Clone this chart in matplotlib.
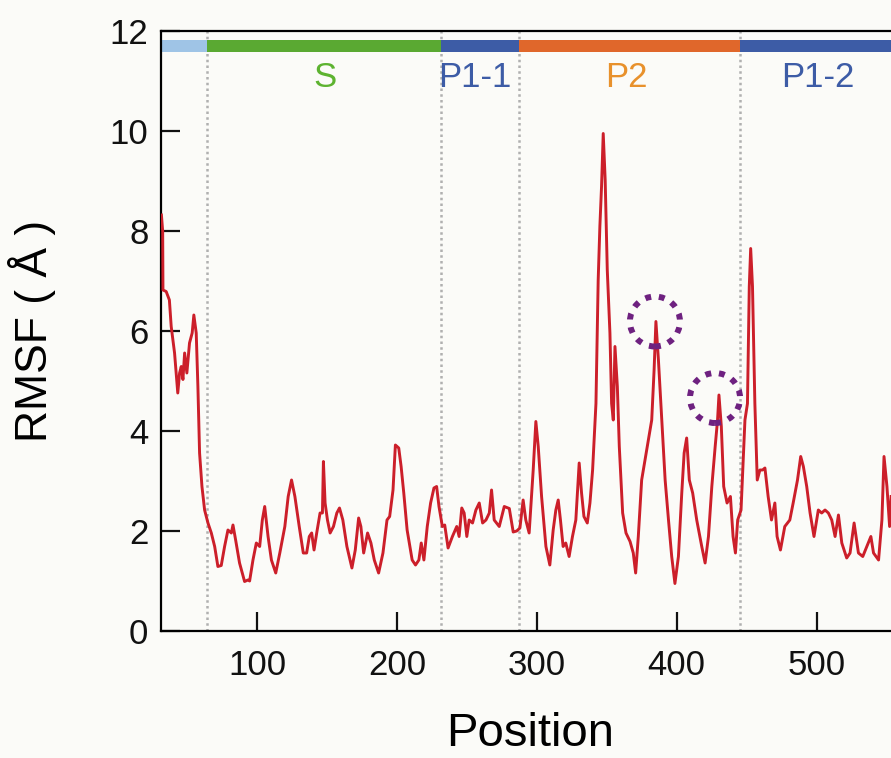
import matplotlib
matplotlib.use("Agg")
import matplotlib.pyplot as plt
from matplotlib.patches import Ellipse

plt.rcParams['font.family'] = ['Liberation Sans', 'DejaVu Sans']

# RMSF trace (position, RMSF in Angstrom)
position = [31.3, 32.2, 32.4, 34.7, 37.0, 38.3, 40.7, 43.0, 44.3, 45.5, 46.7, 47.9, 49.5,
            51.4, 53.3, 54.5, 56.2, 57.4, 58.6, 60.3, 62.2, 64.6, 67.0, 69.4, 71.7, 74.1,
            76.5, 78.9, 81.3, 82.5, 84.4, 87.2, 90.8, 93.2, 94.4, 96.8, 99.2, 101.6, 103.5,
            105.2, 107.6, 110.0, 113.1, 116.0, 119.6, 122.0, 124.4, 126.8, 129.9, 132.8,
            135.2, 137.1, 138.8, 140.5, 142.4, 144.8, 146.5, 147.2, 148.4, 150.1, 152.0,
            154.4, 156.8, 158.7, 161.1, 164.0, 167.6, 170.0, 172.4, 174.0, 176.0, 178.8,
            181.2, 183.6, 186.7, 189.8, 192.7, 194.6, 197.0, 198.7, 201.1, 202.8, 204.7,
            207.1, 210.7, 213.1, 215.5, 217.2, 219.1, 221.5, 223.9, 226.3, 228.2, 229.9,
            232.3, 234.0, 236.4, 239.5, 242.6, 244.3, 246.2, 247.9, 249.8, 251.5, 253.9,
            256.3, 258.7, 261.1, 263.5, 265.9, 267.5, 269.4, 273.0, 276.6, 280.2, 283.0,
            285.5, 287.8, 290.1, 292.0, 294.4, 297.3, 299.2, 300.9, 303.3, 306.4, 309.2,
            311.6, 313.5, 315.2, 316.8, 318.7, 320.6, 323.0, 325.4, 327.8, 330.2, 331.9,
            333.6, 336.0, 337.9, 339.8, 342.2, 343.8, 345.0, 346.2, 347.4, 348.8, 350.3,
            352.2, 353.4, 354.6, 355.8, 357.5, 358.9, 361.3, 363.7, 366.6, 368.9, 370.6,
            372.5, 374.9, 378.5, 382.1, 383.8, 385.1, 386.9, 389.3, 391.7, 394.1, 396.4,
            398.7, 401.2, 403.6, 405.3, 407.1, 409.0, 411.4, 414.3, 417.9, 420.3, 422.7,
            425.1, 427.5, 429.2, 430.2, 431.9, 433.6, 436.0, 438.4, 440.3, 442.0, 443.6,
            446.0, 448.8, 450.6, 451.9, 452.9, 454.2, 455.9, 457.6, 459.5, 461.4, 463.1,
            465.4, 467.8, 470.2, 471.8, 474.2, 477.3, 480.9, 483.3, 486.4, 488.7, 490.6,
            493.0, 495.4, 498.2, 501.3, 503.7, 506.1, 508.5, 510.9, 513.3, 515.7, 518.1,
            521.6, 524.0, 526.9, 530.0, 533.1, 536.0, 538.9, 540.8, 544.4, 546.8, 548.3,
            550.4, 552.3, 553.4]
rmsf = [8.32, 8.00, 6.82, 6.79, 6.62, 6.09, 5.56, 4.76, 5.16, 5.29, 5.03, 5.56, 5.16,
        5.76, 5.96, 6.32, 5.96, 4.89, 3.56, 2.89, 2.42, 2.16, 1.96, 1.69, 1.29, 1.31,
        1.69, 2.02, 1.96, 2.12, 1.82, 1.36, 0.99, 1.02, 1.00, 1.42, 1.76, 1.69, 2.22,
        2.49, 1.89, 1.42, 1.16, 1.56, 2.09, 2.69, 3.02, 2.69, 2.09, 1.56,
        1.56, 1.89, 1.96, 1.62, 1.96, 2.36, 2.36, 3.39, 2.56, 2.22, 1.96,
        2.09, 2.36, 2.46, 2.22, 1.69, 1.26, 1.62, 2.26, 2.09, 1.56, 1.96,
        1.76, 1.42, 1.16, 1.56, 2.22, 2.29, 2.82, 3.72, 3.66, 3.29, 2.76,
        2.02, 1.42, 1.32, 1.42, 1.76, 1.42, 2.09, 2.56, 2.86, 2.89, 2.49,
        2.09, 2.12, 1.66, 1.89, 2.09, 1.89, 2.46, 2.36, 1.89, 2.22, 2.16,
        2.42, 2.56, 2.16, 2.22, 2.36, 2.82, 2.22, 2.09, 2.49, 2.45, 1.98,
        2.00, 2.06, 2.62, 2.22, 1.96, 3.22, 4.19, 3.69, 2.69, 1.69, 1.32,
        2.02, 2.42, 2.62, 2.22, 1.69, 1.76, 1.49, 1.89, 2.22, 3.36, 2.76,
        2.29, 2.16, 2.56, 3.22, 4.55, 7.02, 8.09, 8.89, 9.95, 9.02, 7.22,
        5.96, 4.55, 4.22, 5.69, 4.89, 3.69, 2.36, 1.96, 1.79, 1.56, 1.16,
        1.89, 3.02, 3.62, 4.22, 5.22, 6.19, 5.42, 4.22, 3.02, 2.22, 1.49,
        0.95, 1.49, 2.76, 3.56, 3.86, 3.02, 2.76, 2.22, 1.69, 1.36, 1.89,
        2.89, 3.69, 4.22, 4.72, 4.09, 2.89, 2.56, 2.69, 1.89, 1.56, 2.22,
        2.42, 4.22, 4.55, 6.89, 7.65, 6.89, 4.55, 3.02, 3.22, 3.22, 3.26,
        2.69, 2.22, 2.56, 1.89, 1.62, 2.09, 2.22, 2.56, 3.02, 3.49, 3.29,
        2.89, 2.36, 1.89, 2.42, 2.36, 2.42, 2.36, 2.22, 1.89, 2.32, 1.76,
        1.46, 1.56, 2.16, 1.56, 1.49, 1.69, 1.89, 1.56, 1.42, 2.22, 3.49,
        2.89, 2.09, 2.69]

# domain annotation bar
domain_start = [31, 64, 231, 287, 445]
domain_end = [64, 231, 287, 445, 554]
domain_color = ['#9fc4e6', '#5aa932', '#3d5ca6', '#e0672b', '#3d5ca6']
boundaries = [64, 231, 287, 445]

labels = ['S', 'P1-1', 'P2', 'P1-2']
label_x = [148, 255.5, 364, 501]
label_color = ['#5db330', '#3d5ca6', '#e8912c', '#3d5ca6']

# highlighted peaks
circle_x = [384.4, 427.4]
circle_y = [6.19, 4.66]

bg = '#fbfbf8'
fig = plt.figure(figsize=(8.91, 7.58), dpi=100, facecolor=bg)
ax = fig.add_axes([161 / 891, 127 / 758, 730 / 891, 600 / 758])
ax.set_facecolor(bg)

for b in boundaries:
    ax.axvline(b, color='#b0b0b0', lw=1.8, ls=(0, (1, 1.3)), zorder=1)

ax.broken_barh([(s, e - s) for s, e in zip(domain_start, domain_end)],
               (11.58, 0.25), facecolors=domain_color, zorder=2)

for t, x, c in zip(labels, label_x, label_color):
    ax.text(x, 11.08, t, color=c, fontsize=25, ha='center', va='center')

ax.plot(position, rmsf, color='#cc1f2a', lw=2.1, zorder=3)

for cx, cy in zip(circle_x, circle_y):
    ax.add_patch(Ellipse((cx, cy), 35.8, 1.0, fill=False, edgecolor='#6e2180',
                         lw=4.3, ls=(0, (1.0, 1.3)), zorder=4))

ax.set_xlim(31, 553.3)
ax.set_ylim(0, 12)
ax.set_xticks([100, 200, 300, 400, 500])
ax.set_yticks([0, 2, 4, 6, 8, 10, 12])

ax.spines['right'].set_visible(False)
for s in ['left', 'bottom', 'top']:
    ax.spines[s].set_linewidth(1.6)
ax.tick_params(direction='in', length=14, width=1.6, labelsize=25, colors='#111111')
ax.tick_params(axis='x', pad=13)
ax.tick_params(axis='y', pad=9)

ax.set_xlabel('Position', fontsize=34, va='center')
ax.xaxis.set_label_coords(0.505, -0.172)
ax.set_ylabel('RMSF ( Å )', fontsize=32, va='center')
ax.yaxis.set_label_coords(-0.177, 0.5)

fig.savefig('out.png', dpi=100, facecolor=bg)
